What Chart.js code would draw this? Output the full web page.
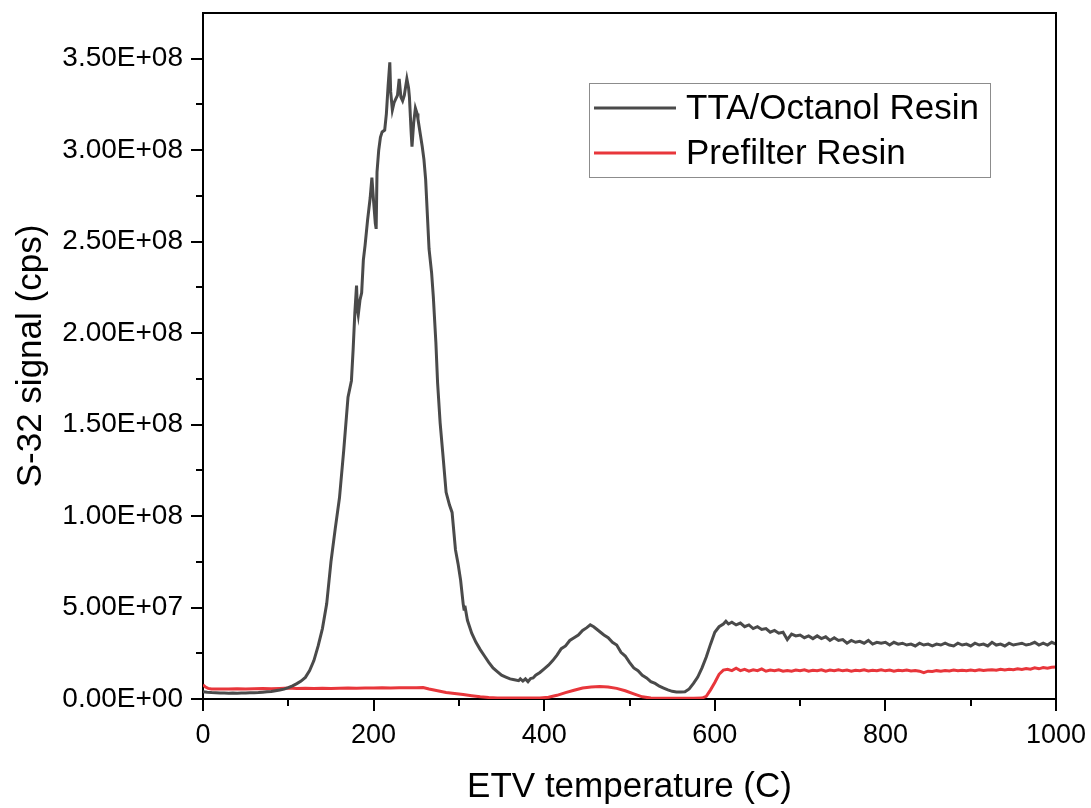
<!DOCTYPE html>
<html>
<head>
<meta charset="utf-8">
<script src="https://cdn.jsdelivr.net/npm/chart.js@4.4.1/dist/chart.umd.min.js"></script>
<style>
  html, body { margin: 0; padding: 0; background: #ffffff; }
  #wrap { width: 1091px; height: 808px; position: relative; }
</style>
</head>
<body>
<div id="wrap"><canvas id="c" width="1091" height="808"></canvas></div>
<script>
// ---- Data (signal in units of 1E7 cps) ----
const seriesLabels = ['TTA/Octanol Resin', 'Prefilter Resin'];

const tempsTTA = [
  0,5,10,15,20,25,30,35,40,45,50,55,60,65,70,75,80,85,90,95,
  100,105,110,115,120,125,130,135,140,145,150,155,160,165,170,174,176,178,180,181,
  182,184,186,188,190,193,196,198,200,202,203,204,206,208,210,213,215,217,219,220,
  222,224,226,228,230,232,234,236,239,241,242,244,245,247,249,251,252,255,257,259,
  261,263,265,268,270,273,275,278,281,285,289,292,296,299,302,305,306,307,310,315,
  320,325,330,335,340,345,350,355,360,365,370,372,375,378,381,384,387,390,395,400,
  405,410,415,420,425,430,435,440,445,450,454,458,462,466,470,475,480,485,490,495,
  500,505,510,515,520,525,530,535,540,545,550,555,560,565,570,575,580,585,590,595,
  600,605,610,613,616,620,625,630,635,640,645,650,655,660,665,670,675,680,685,690,
  695,700,705,710,715,720,725,730,735,740,745,750,755,760,765,770,775,780,785,790,
  795,800,805,810,815,820,825,830,835,840,845,850,855,860,865,870,875,880,885,890,
  895,900,905,910,915,920,925,930,935,940,945,950,955,960,965,970,975,980,985,990,
  995,1000
];
const signalTTA = [
  0.40,0.37,0.35,0.34,0.33,0.33,0.32,0.33,0.32,0.33,0.33,0.34,0.34,0.35,0.37,0.39,0.41,0.45,0.49,0.54,
  0.62,0.72,0.84,0.98,1.18,1.55,2.10,2.90,3.85,5.20,7.50,9.30,11.0,13.6,16.5,17.4,19.1,21.1,22.6,21.3,
  21.0,21.8,22.2,24.0,24.8,26.2,27.4,28.5,27.2,26.0,25.7,28.8,30.0,30.7,31.0,31.1,32.0,33.5,34.8,33.2,
  32.2,32.6,32.8,33.0,33.9,32.9,32.7,33.0,33.9,33.4,32.9,31.0,30.2,31.5,32.3,32.0,31.7,30.8,30.2,29.5,
  28.4,26.5,24.6,23.3,22.0,19.5,17.3,15.1,13.5,11.3,10.6,10.2,8.15,7.4,6.5,5.2,4.9,5.1,4.3,3.6,
  3.1,2.7,2.35,2.0,1.7,1.5,1.3,1.2,1.1,1.05,1.0,1.1,0.98,1.1,0.95,1.12,1.15,1.3,1.45,1.65,
  1.85,2.1,2.4,2.75,2.9,3.2,3.35,3.5,3.75,3.9,4.05,3.95,3.8,3.65,3.5,3.35,3.1,2.95,2.55,2.35,
  2.0,1.7,1.55,1.3,1.15,0.95,0.85,0.7,0.6,0.5,0.42,0.38,0.38,0.40,0.55,0.85,1.2,1.7,2.3,3.0,
  3.65,3.95,4.1,4.25,4.1,4.2,4.05,4.15,3.95,4.05,3.85,3.95,3.8,3.85,3.65,3.75,3.6,3.65,3.25,3.55,
  3.45,3.5,3.35,3.45,3.3,3.45,3.3,3.4,3.2,3.35,3.2,3.25,3.05,3.2,3.1,3.15,3.05,3.2,3.0,3.1,
  3.05,3.1,2.95,3.1,3.0,3.05,2.95,3.0,2.9,3.05,2.95,3.0,2.9,3.0,2.95,3.05,2.95,2.9,3.05,2.95,
  3.0,2.9,3.05,2.95,3.0,2.9,3.1,2.95,3.0,2.9,3.05,2.95,3.0,3.05,2.95,3.0,3.1,2.95,3.05,2.95,
  3.1,3.0
];

const tempsPre = [
  0,3,6,10,20,30,40,50,60,70,80,90,100,110,120,130,140,150,160,170,
  180,190,200,210,220,230,240,250,258,265,275,285,295,305,315,325,335,345,355,365,
  375,385,395,405,415,425,435,445,455,465,475,485,495,505,515,525,535,545,555,565,
  575,585,590,595,600,605,610,615,620,625,630,635,640,645,650,655,660,665,670,675,
  680,685,690,695,700,705,710,715,720,725,730,735,740,745,750,755,760,765,770,775,
  780,785,790,795,800,805,810,815,820,825,830,835,840,845,850,855,860,865,870,875,
  880,885,890,895,900,905,910,915,920,925,930,935,940,945,950,955,960,965,970,975,
  980,985,990,995,1000
];
const signalPre = [
  0.78,0.65,0.58,0.55,0.55,0.54,0.56,0.55,0.56,0.57,0.56,0.58,0.60,0.58,0.59,0.58,0.59,0.58,0.59,0.60,
  0.59,0.60,0.60,0.61,0.60,0.61,0.62,0.62,0.63,0.55,0.45,0.36,0.30,0.24,0.18,0.12,0.08,0.06,0.05,0.05,
  0.05,0.05,0.06,0.10,0.20,0.35,0.48,0.60,0.66,0.68,0.66,0.58,0.45,0.28,0.12,0.05,0.04,0.04,0.04,0.04,
  0.04,0.05,0.15,0.5,0.9,1.35,1.58,1.62,1.55,1.68,1.55,1.62,1.52,1.60,1.55,1.65,1.52,1.58,1.55,1.60,
  1.52,1.56,1.52,1.58,1.55,1.60,1.52,1.57,1.55,1.60,1.52,1.58,1.55,1.60,1.54,1.58,1.52,1.57,1.55,1.60,
  1.53,1.57,1.55,1.60,1.54,1.58,1.52,1.57,1.54,1.58,1.53,1.56,1.52,1.44,1.52,1.50,1.55,1.52,1.56,1.53,
  1.58,1.54,1.57,1.55,1.58,1.55,1.60,1.56,1.58,1.60,1.57,1.62,1.58,1.62,1.60,1.65,1.62,1.66,1.63,1.70,
  1.65,1.72,1.68,1.73,1.75
];

const xTickStep = 200;
const yTickStep = 5;      // 5E7
const yUnit = 1e7;

// ---- helpers ----
function fmtSci(v) {
  const val = v * yUnit;
  if (val === 0) return '0.00E+00';
  const e = Math.floor(Math.log10(Math.abs(val)) + 1e-9);
  const m = val / Math.pow(10, e);
  const es = (e < 0 ? '-' : '+') + String(Math.abs(e)).padStart(2, '0');
  return m.toFixed(2) + 'E' + es;
}
const FONT = '"Liberation Sans", Arial, sans-serif';

function noScalePadding(s) {
  s.paddingTop = 0; s.paddingBottom = 0; s.paddingLeft = 0; s.paddingRight = 0;
}

const frameAndMinor = {
  id: 'frameAndMinor',
  afterDraw(chart) {
    const {ctx, chartArea: a, scales} = chart;
    ctx.save();
    ctx.strokeStyle = '#000';
    ctx.lineWidth = 2;
    ctx.beginPath();
    ctx.moveTo(a.left, a.top); ctx.lineTo(a.right, a.top); ctx.lineTo(a.right, a.bottom);
    ctx.stroke();
    ctx.beginPath();
    const xs = scales.x;
    for (let v = xTickStep / 2; v < xs.max; v += xTickStep) {
      const px = Math.round(xs.getPixelForValue(v));
      ctx.moveTo(px, a.bottom); ctx.lineTo(px, a.bottom + 7);
    }
    const ys = scales.y;
    for (let v = yTickStep / 2; v < ys.max; v += yTickStep) {
      const py = Math.round(ys.getPixelForValue(v));
      ctx.moveTo(a.left, py); ctx.lineTo(a.left - 7, py);
    }
    ctx.stroke();
    ctx.restore();
  }
};

const boxedLegend = {
  id: 'boxedLegend',
  afterDraw(chart) {
    const {ctx} = chart;
    ctx.save();
    ctx.strokeStyle = '#8c8c8c';
    ctx.lineWidth = 1;
    ctx.strokeRect(589.5, 83.5, 401, 94);
    ctx.font = '35px ' + FONT;
    ctx.textBaseline = 'middle';
    ctx.textAlign = 'left';
    chart.data.datasets.forEach((ds, i) => {
      const y = 108 + i * 45;
      ctx.strokeStyle = ds.borderColor;
      ctx.lineWidth = 3;
      ctx.beginPath(); ctx.moveTo(594, y); ctx.lineTo(676, y); ctx.stroke();
      ctx.fillStyle = '#000';
      ctx.fillText(ds.label, 686, y + 1);
    });
    ctx.restore();
  }
};

new Chart(document.getElementById('c'), {
  type: 'line',
  data: {
    datasets: [
      {
        label: seriesLabels[0],
        data: tempsTTA.map((t, i) => ({x: t, y: signalTTA[i]})),
        borderColor: '#4a4a4a',
        borderWidth: 3,
        pointRadius: 0,
        tension: 0
      },
      {
        label: seriesLabels[1],
        data: tempsPre.map((t, i) => ({x: t, y: signalPre[i]})),
        borderColor: '#e8363b',
        borderWidth: 3,
        pointRadius: 0,
        tension: 0
      }
    ]
  },
  options: {
    responsive: false,
    animation: false,
    events: [],
    layout: { padding: { left: 0, right: 35, top: 13, bottom: 0 } },
    plugins: { legend: { display: false }, tooltip: { enabled: false } },
    scales: {
      x: {
        type: 'linear',
        min: 0, max: 1000,
        afterFit(s) { s.height = 109; noScalePadding(s); },
        border: { display: true, color: '#000', width: 2 },
        grid: { drawOnChartArea: false, drawTicks: true, tickLength: 12, tickWidth: 2, tickColor: '#000', lineWidth: 2 },
        ticks: { stepSize: xTickStep, color: '#000', font: { family: FONT, size: 27, lineHeight: 1.2 }, padding: 8, maxRotation: 0, callback: (v) => String(v) },
        title: { display: true, text: 'ETV temperature (C)', color: '#000', font: { family: FONT, size: 35, lineHeight: 1 }, padding: { top: 0, bottom: 3 } }
      },
      y: {
        type: 'linear',
        min: 0, max: 37.5,
        afterFit(s) { s.width = 203; noScalePadding(s); },
        border: { display: true, color: '#000', width: 2 },
        grid: { drawOnChartArea: false, drawTicks: true, tickLength: 12, tickWidth: 2, tickColor: '#000', lineWidth: 2 },
        ticks: { stepSize: yTickStep, includeBounds: false, color: '#000', font: { family: FONT, size: 28 }, padding: 8, callback: (v) => fmtSci(v) },
        title: { display: true, text: 'S-32 signal (cps)', color: '#000', font: { family: FONT, size: 35, lineHeight: 1 }, padding: { top: 14, bottom: 0 } }
      }
    }
  },
  plugins: [frameAndMinor, boxedLegend]
});
</script>
</body>
</html>
